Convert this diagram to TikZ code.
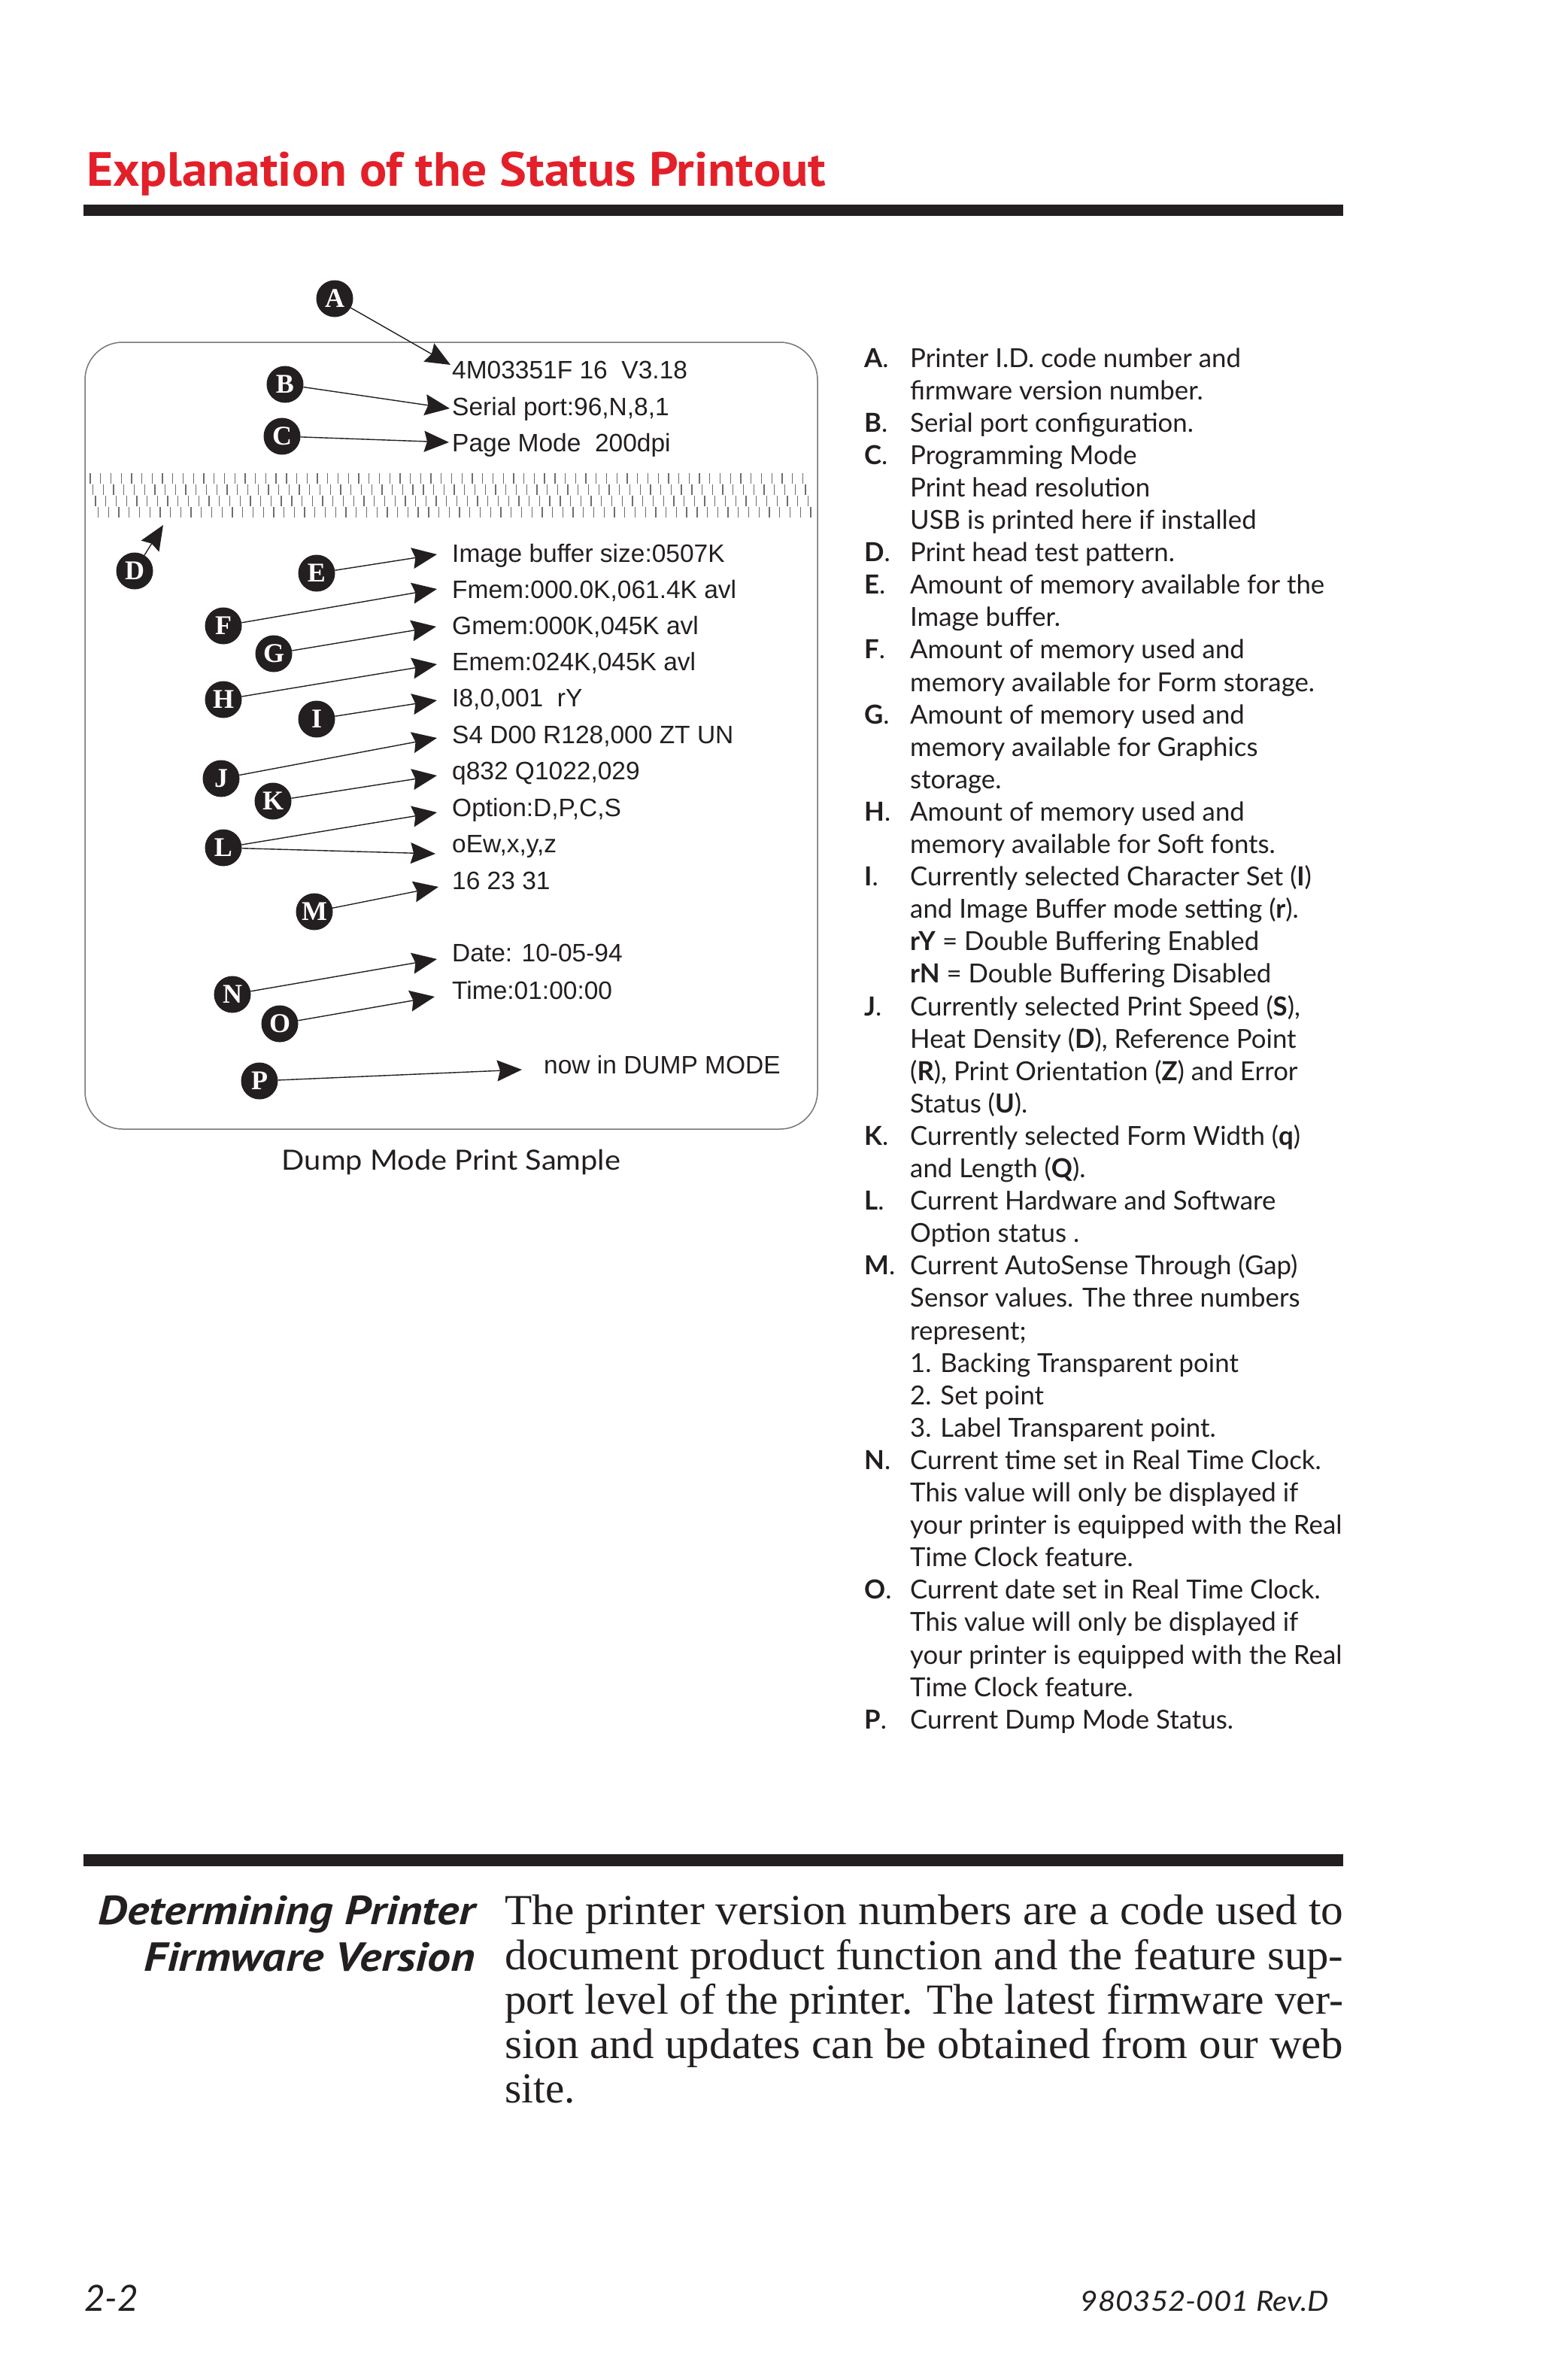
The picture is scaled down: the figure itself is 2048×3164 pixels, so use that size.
\documentclass[tikz,border=0pt]{standalone}
\usepackage{graphicx}
\usepackage{fontspec}
\setmainfont{Lato}
\newfontfamily\prtfont{Liberation Sans}
\newfontfamily\circfont{Liberation Serif}
\newfontfamily\bodyfont{Liberation Serif}
\newfontfamily\headfont{PT Sans}
\usetikzlibrary{arrows.meta}
\definecolor{ink}{HTML}{231F20}
\definecolor{titlered}{HTML}{E3202A}
\definecolor{pattgray}{HTML}{6E6E6E}
\definecolor{boxgray}{HTML}{777777}
\newcommand\rcline[2]{\node[rc] (r#1) at (1210,{488+#1*43.1}) {#2};}
\newcommand\rclet[2]{\node[rcl] (k#1) at (1149,{488+#1*43.1}) {{\bfseries #2}.};}
\begin{document}
\begin{tikzpicture}[x=1pt,y=-1pt,
  lbl/.style={circle, fill=ink, minimum size=49pt, inner sep=0pt, text=white,
    font=\circfont\bfseries\fontsize{36}{36}\selectfont},
  ptxt/.style={anchor=base west, inner sep=0pt, text=ink,
    font=\prtfont\fontsize{33.5}{36}\selectfont},
  arr/.style={draw=ink, line width=1.4pt,
    -{Stealth[length=33pt,width=28pt,inset=4pt]}},
  rc/.style={anchor=base west, inner sep=0pt, text=ink,
    font=\fontsize{34.8}{37}\selectfont},
  rcl/.style={anchor=base west, inner sep=0pt, text=ink,
    font=\fontsize{34.8}{37}\selectfont},
  patt/.style={draw=pattgray, line width=1.3pt}
]
\useasboundingbox (0,0) rectangle (2048,3164);
\fill[white] (0,0) rectangle (2048,3164);

% title and rules
\node[anchor=base west, inner sep=0pt, text=titlered,
  font=\headfont\bfseries\fontsize{64}{70}\selectfont] (title) at (115,247)
  {\resizebox{983pt}{\height}{Explanation of the Status Printout}};
\fill[ink] (111,272) rectangle (1786,287);
\fill[ink] (111,2465) rectangle (1786,2481);

% printout box
\draw[draw=boxgray, line width=1.5pt, rounded corners=50pt] (113,455) rectangle (1087,1501);

% test pattern
\foreach \r/\off in {0/0,1/3.5,2/7,3/10.5}{
  \foreach \k in {0,...,69}{
    \draw[patt] ({120+\off+\k*13.73},{629+\r*15}) -- ++(0,14);
  }
}

% printout text
\node[ptxt] (p1) at (601,503) {4M03351F 16~~V3.18};
\node[ptxt] (p2) at (601,552) {Serial port:96,N,8,1};
\node[ptxt] (p3) at (601,600) {Page Mode~~200dpi};
\node[ptxt] (p4) at (601,747) {Image buffer size:0507K};
\node[ptxt] (p5) at (601,795) {Fmem:000.0K,061.4K avl};
\node[ptxt] (p6) at (601,843) {Gmem:000K,045K avl};
\node[ptxt] (p7) at (601,891) {Emem:024K,045K avl};
\node[ptxt] (p8) at (601,939) {I8,0,001~~rY};
\node[ptxt] (p9) at (601,988) {S4 D00 R128,000 ZT UN};
\node[ptxt] (p10) at (601,1036) {q832 Q1022,029};
\node[ptxt] (p11) at (601,1085) {Option:D,P,C,S};
\node[ptxt] (p12) at (601,1133) {oEw,x,y,z};
\node[ptxt] (p13) at (601,1182) {16 23 31};
\node[ptxt] (p14) at (601,1278) {Date: 10-05-94};
\node[ptxt] (p15) at (601,1328) {Time:01:00:00};
\node[ptxt] (p16) at (723,1427) {now in DUMP MODE};

% caption
\node[anchor=base, inner sep=0pt, text=ink, font=\fontsize{37}{40}\selectfont] (cap) at (600,1555)
  {\resizebox{450pt}{\height}{Dump Mode Print Sample}};

% letter circles
\node[lbl] (cA) at (445,397) {A};
\node[lbl] (cB) at (379,511) {B};
\node[lbl] (cC) at (375,580) {C};
\node[lbl] (cD) at (179,759) {D};
\node[lbl] (cE) at (421,762) {E};
\node[lbl] (cF) at (297,832) {F};
\node[lbl] (cG) at (364,869) {G};
\node[lbl] (cH) at (297,930) {H};
\node[lbl] (cI) at (421,956) {I};
\node[lbl] (cJ) at (294,1035) {J};
\node[lbl] (cK) at (363,1065) {K};
\node[lbl] (cL) at (297,1127) {L};
\node[lbl] (cM) at (418,1212) {M};
\node[lbl] (cN) at (309,1322) {N};
\node[lbl] (cO) at (372,1361) {O};
\node[lbl] (cP) at (345,1437) {P};

% arrow tips
\coordinate (tA) at (599,485);
\coordinate (tB) at (598,543);
\coordinate (tC) at (597,588);
\coordinate (tD) at (217,698);
\coordinate (tE) at (581,737);
\coordinate (tF) at (581,783);
\coordinate (tG) at (580,833);
\coordinate (tH) at (581,883);
\coordinate (tI) at (581,931);
\coordinate (tJ) at (581,981);
\coordinate (tK) at (581,1031);
\coordinate (tL1) at (581,1080);
\coordinate (tL2) at (579,1135);
\coordinate (tM) at (583,1179);
\coordinate (tN) at (581,1275);
\coordinate (tO) at (578,1325);
\coordinate (tP) at (694,1422);

\draw[arr] (cA) -- (tA);
\draw[arr] (cB) -- (tB);
\draw[arr] (cC) -- (tC);
\draw[arr] (cD) -- (tD);
\draw[arr] (cE) -- (tE);
\draw[arr] (cF) -- (tF);
\draw[arr] (cG) -- (tG);
\draw[arr] (cH) -- (tH);
\draw[arr] (cI) -- (tI);
\draw[arr] (cJ) -- (tJ);
\draw[arr] (cK) -- (tK);
\draw[arr] (cL) -- (tL1);
\draw[arr] (cL) -- (tL2);
\draw[arr] (cM) -- (tM);
\draw[arr] (cN) -- (tN);
\draw[arr] (cO) -- (tO);
\draw[arr] (cP) -- (tP);

% right column
\rclet{0}{A}\rcline{0}{Printer I.D. code number and}
\rcline{1}{firmware version number.}
\rclet{2}{B}\rcline{2}{Serial port configuration.}
\rclet{3}{C}\rcline{3}{Programming Mode}
\rcline{4}{Print head resolution}
\rcline{5}{USB is printed here if installed}
\rclet{6}{D}\rcline{6}{Print head test pattern.}
\rclet{7}{E}\rcline{7}{Amount of memory available for the}
\rcline{8}{Image buffer.}
\rclet{9}{F}\rcline{9}{Amount of memory used and}
\rcline{10}{memory available for Form storage.}
\rclet{11}{G}\rcline{11}{Amount of memory used and}
\rcline{12}{memory available for Graphics}
\rcline{13}{storage.}
\rclet{14}{H}\rcline{14}{Amount of memory used and}
\rcline{15}{memory available for Soft fonts.}
\rclet{16}{I}\rcline{16}{Currently selected Character Set (\textbf{I})}
\rcline{17}{and Image Buffer mode setting (\textbf{r}).}
\rcline{18}{\textbf{rY} = Double Buffering Enabled}
\rcline{19}{\textbf{rN} = Double Buffering Disabled}
\rclet{20}{J}\rcline{20}{Currently selected Print Speed (\textbf{S}),}
\rcline{21}{Heat Density (\textbf{D}), Reference Point}
\rcline{22}{(\textbf{R}), Print Orientation (\textbf{Z}) and Error}
\rcline{23}{Status (\textbf{U}).}
\rclet{24}{K}\rcline{24}{Currently selected Form Width (\textbf{q})}
\rcline{25}{and Length (\textbf{Q}).}
\rclet{26}{L}\rcline{26}{Current Hardware and Software}
\rcline{27}{Option status .}
\rclet{28}{M}\rcline{28}{Current AutoSense Through (Gap)}
\rcline{29}{Sensor values. The three numbers}
\rcline{30}{represent;}
\rcline{31}{1. Backing Transparent point}
\rcline{32}{2. Set point}
\rcline{33}{3. Label Transparent point.}
\rclet{34}{N}\rcline{34}{Current time set in Real Time Clock.}
\rcline{35}{This value will only be displayed if}
\rcline{36}{your printer is equipped with the Real}
\rcline{37}{Time Clock feature.}
\rclet{38}{O}\rcline{38}{Current date set in Real Time Clock.}
\rcline{39}{This value will only be displayed if}
\rcline{40}{your printer is equipped with the Real}
\rcline{41}{Time Clock feature.}
\rclet{42}{P}\rcline{42}{Current Dump Mode Status.}

% bottom section
\node[anchor=base east, inner sep=0pt, text=ink,
  font=\headfont\bfseries\itshape\fontsize{54}{60}\selectfont] (h1) at (632,2558)
  {\resizebox{501pt}{\height}{Determining Printer}};
\node[anchor=base east, inner sep=0pt, text=ink,
  font=\headfont\bfseries\itshape\fontsize{54}{60}\selectfont] (h2) at (632,2620)
  {\resizebox{440pt}{\height}{Firmware Version}};
\tikzset{bodyl/.style={anchor=base west, inner sep=0pt, text=ink,
  font=\bodyfont\fontsize{57}{60}\selectfont}}
\node[bodyl] (b1) at (671,2558) {\resizebox{1115pt}{\height}{The printer version numbers are a code used to}};
\node[bodyl] (b2) at (671,2618) {\resizebox{1115pt}{\height}{document product function and the feature sup-}};
\node[bodyl] (b3) at (671,2677) {\resizebox{1115pt}{\height}{port level of the printer. The latest firmware ver-}};
\node[bodyl] (b4) at (671,2736) {\resizebox{1115pt}{\height}{sion and updates can be obtained from our web}};
\node[bodyl] (b5) at (671,2795) {site.};

% footer
\node[anchor=base west, inner sep=0pt, text=ink, font=\itshape\fontsize{48}{50}\selectfont] (f1) at (112,3072)
  {\resizebox{72pt}{\height}{2-2}};
\node[anchor=base east, inner sep=0pt, text=ink, font=\itshape\fontsize{37}{40}\selectfont] (f2) at (1767,3072)
  {\resizebox{330pt}{\height}{980352-001 Rev.D}};
\end{tikzpicture}
\end{document}
